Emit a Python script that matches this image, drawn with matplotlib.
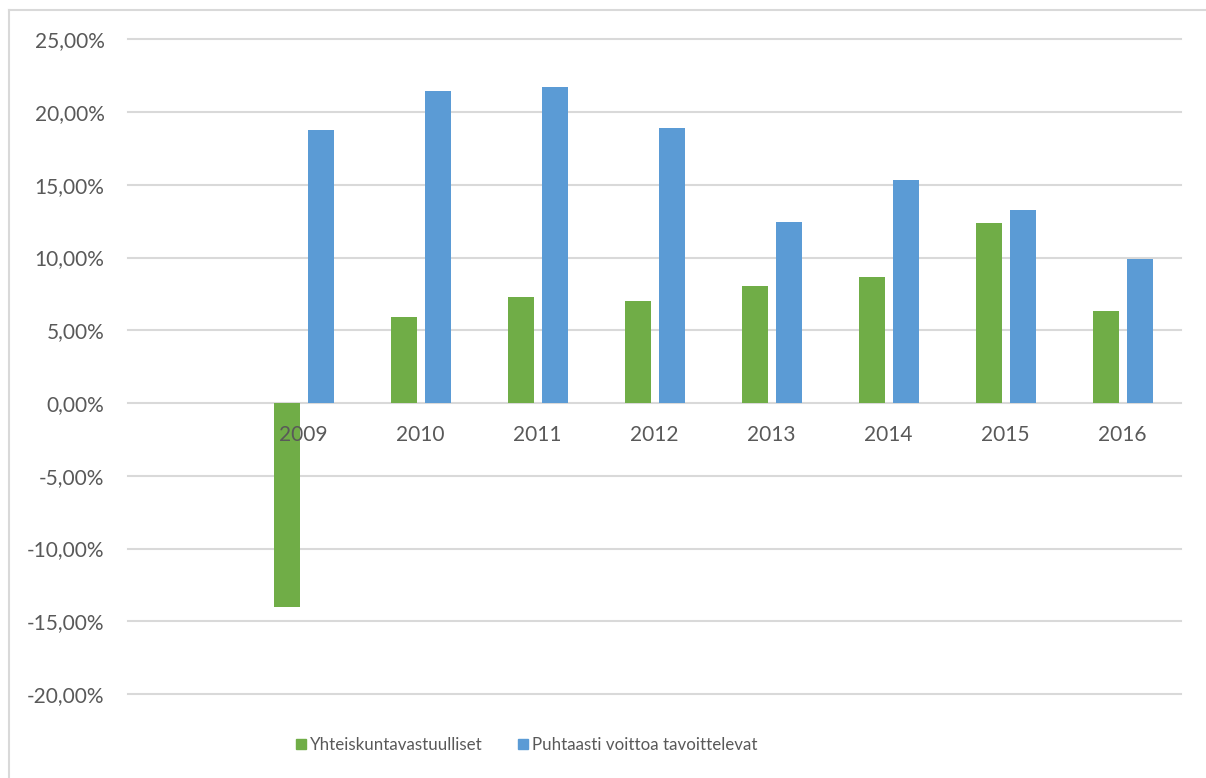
import matplotlib
matplotlib.use("Agg")
import matplotlib.pyplot as plt
from matplotlib.lines import Line2D
from matplotlib.patches import Patch
import numpy as np

# Categories on the x axis (first slot is empty)
categories = ['', '2009', '2010', '2011', '2012', '2013', '2014', '2015', '2016']
years = ['2009', '2010', '2011', '2012', '2013', '2014', '2015', '2016']

# Returns in percent
yhteiskunta = [-14.0, 5.94, 7.31, 7.04, 8.07, 8.69, 12.40, 6.35]
puhtaasti = [18.78, 21.46, 21.74, 18.92, 12.47, 15.35, 13.29, 9.92]

yticks = [-20, -15, -10, -5, 0, 5, 10, 15, 20, 25]
ytick_labels = ['-20,00%', '-15,00%', '-10,00%', '-5,00%', '0,00%',
                '5,00%', '10,00%', '15,00%', '20,00%', '25,00%']

GREEN = '#70AD47'
BLUE = '#5B9BD5'
TEXT = '#595959'
GRID = '#D9D9D9'

plt.rcParams['font.family'] = ['Lato', 'DejaVu Sans']

fig = plt.figure(figsize=(12.06, 7.78), dpi=100)
ax = fig.add_axes([128 / 1206, 84 / 778, 1053 / 1206, 654.7 / 778])

x = np.array([categories.index(y) for y in years])
width = 0.223
ax.bar(x - 0.143, yhteiskunta, width, color=GREEN, label='Yhteiskuntavastuulliset')
ax.bar(x + 0.146, puhtaasti, width, color=BLUE, label='Puhtaasti voittoa tavoittelevat')

ax.set_xlim(-0.5, len(categories) - 0.5)
ax.set_ylim(-20, 25)
ax.set_yticks(yticks)
ax.set_yticklabels(ytick_labels)
ax.set_xticks(range(len(categories)))
ax.set_xticklabels(categories)

# x labels sit just below the zero line
ax.spines['bottom'].set_position(('data', 0))
for s in ax.spines.values():
    s.set_visible(False)
ax.tick_params(axis='both', length=0, labelsize=15, labelcolor=TEXT)
ax.tick_params(axis='y', pad=17)
ax.tick_params(axis='x', pad=15.5)

ax.grid(axis='y', color=GRID, linewidth=1.5)
ax.set_axisbelow(True)
ax.xaxis.set_zorder(3)  # year labels drawn over the bars
for gl in ax.get_ygridlines():
    gl.set_clip_on(False)

handles = [Patch(color=GREEN), Patch(color=BLUE)]
fig.legend(handles, ['Yhteiskuntavastuulliset', 'Puhtaasti voittoa tavoittelevat'],
           loc='center left', bbox_to_anchor=(296 / 1206, 1 - 745 / 778), ncol=2,
           frameon=False, fontsize=12.2, labelcolor=TEXT,
           handlelength=0.6, handleheight=0.6,
           handletextpad=0.25, columnspacing=2.05, borderpad=0, borderaxespad=0)

# chart area border (top and left edges)
fig.add_artist(Line2D([9 / 1206, 9 / 1206], [0, 1 - 10 / 778], color=GRID, lw=1.5,
                      transform=fig.transFigure))
fig.add_artist(Line2D([9 / 1206, 1], [1 - 10 / 778, 1 - 10 / 778], color=GRID, lw=1.5,
                      transform=fig.transFigure))

fig.savefig('out.png', dpi=100)
